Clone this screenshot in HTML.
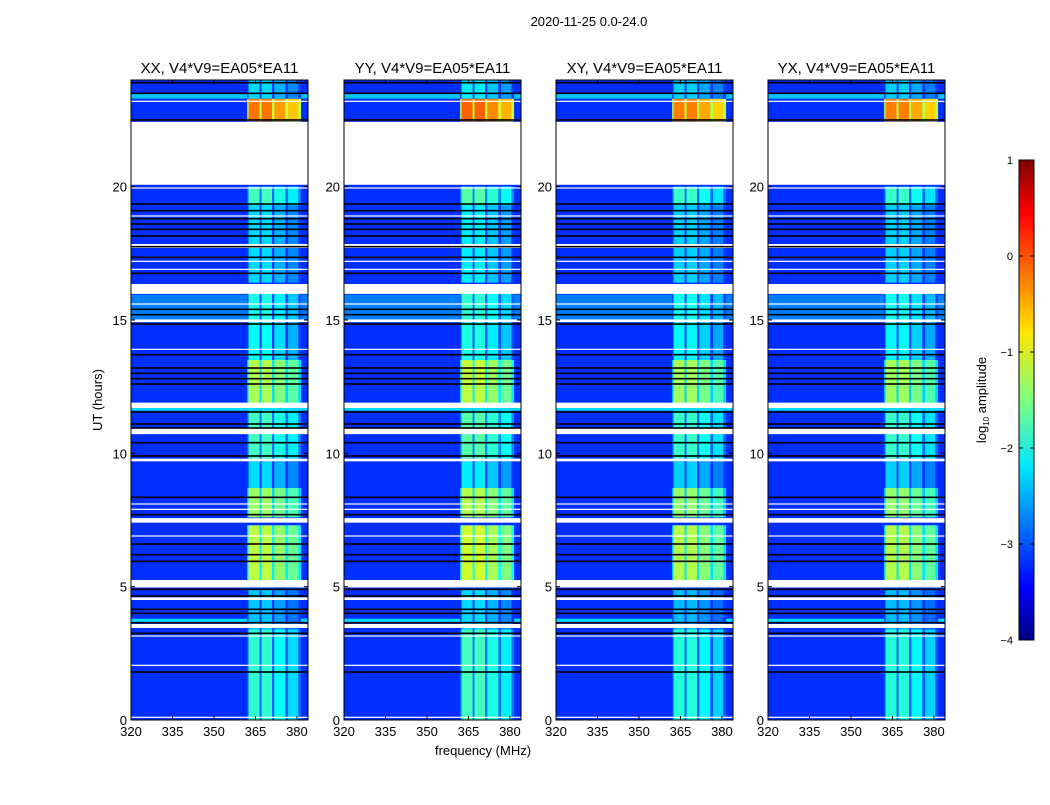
<!DOCTYPE html>
<html><head><meta charset="utf-8">
<style>
body{margin:0;background:#fff;font-family:"Liberation Sans",sans-serif;}
svg text{font-family:"Liberation Sans",sans-serif;fill:#000;}
</style></head>
<body>
<svg id="fig" width="1050" height="800" xmlns="http://www.w3.org/2000/svg">
<defs>
<linearGradient id="jetgrad" x1="0" y1="1" x2="0" y2="0">
<stop offset="0" stop-color="#000080"/><stop offset="0.11" stop-color="#0000ff"/>
<stop offset="0.36" stop-color="#00e6ff"/><stop offset="0.5" stop-color="#80ff80"/>
<stop offset="0.64" stop-color="#ffe600"/><stop offset="0.89" stop-color="#ff0000"/>
<stop offset="1" stop-color="#800000"/></linearGradient>
</defs>
<text x="589" y="26" font-size="13" text-anchor="middle">2020-11-25 0.0-24.0</text>
<text x="483" y="755" font-size="13" text-anchor="middle">frequency (MHz)</text>
<text x="102" y="400" font-size="13" text-anchor="middle" transform="rotate(-90 102 400)">UT (hours)</text>
<g id="panels"></g>
<rect x="1019" y="160" width="15" height="480" fill="url(#jetgrad)" stroke="#000" stroke-width="1"/>
<text x="986" y="400" font-size="13" text-anchor="middle" transform="rotate(-90 986 400)">log<tspan font-size="8" dy="3">10</tspan><tspan dy="-3"> amplitude</tspan></text>
<g id="cbticks"></g>
</svg>
<script>
const panelTitles = ["XX, V4*V9=EA05*EA11","YY, V4*V9=EA05*EA11","XY, V4*V9=EA05*EA11","YX, V4*V9=EA05*EA11"];
const panelOffsets = [0, 0.1, -0.05, -0.05];
const xTicks = [320,335,350,365,380];
const yTicks = [0,5,10,15,20];
const cbTicks = [-4,-3,-2,-1,0,1];
const baseSegs = [[0,24,-3.15],[23.3,23.5,-2.4],[15.0,15.95,-2.75],[11.6,11.9,-2.3],[3.65,3.8,-2.3]];
const rfiSegs = [[0,3.4,-1.9],[3.4,4.9,-2.4],[5.2,7.3,-1.2],[7.6,8.7,-1.35],[8.7,9.7,-2.3],[9.8,11.6,-1.8],[11.8,12.5,-1.3],[12.5,13.5,-1.25],[13.5,15,-2.1],[15,16,-2.0],[16.4,19.3,-2.3],[19.3,20,-1.8],[22.45,23.3,-0.2],[23.3,24,-2.3]];
const bands = [[362.5,366.5,0],[367.2,371,0],[371.8,375.8,-0.2],[376.8,380.5,-0.4]];
const blanks = [[20.07,22.43],[15.98,16.35],[17.7,17.85],[14.92,15.02],[11.7,11.9],[10.72,10.95],[9.7,9.8],[7.4,7.57],[4.97,5.25],[4.5,4.6],[3.45,3.6]];
const flags = [23.9,23.5,22.5,19.35,19.1,18.8,18.6,18.4,18.15,17.75,17.35,16.75,15.4,15.2,14.85,13.7,13.2,13.0,12.8,12.6,11.55,11.1,10.95,10.4,9.9,8.35,7.7,6.6,6.2,5.95,4.9,4.65,4.15,4.0,3.65,3.25,1.8];
const thinWhites = [23.2,19.95,18.9,17.2,16.9,15.6,13.9,8.1,7.9,6.9,3.15,2.05,0.1];

const NS="http://www.w3.org/2000/svg";
const panelX=[131,344,556,768], PW=177, PT=80, PH=640;
function jet(v){const x=Math.max(0,Math.min(1,(v+4)/5));
 const c=t=>Math.round(255*Math.max(0,Math.min(1,1.5-Math.abs(4*x-t))));
 return `rgb(${c(3)},${c(2)},${c(1)})`;}
function mk(tag,attrs,parent){const e=document.createElementNS(NS,tag);for(const k in attrs)e.setAttribute(k,attrs[k]);parent.appendChild(e);return e;}
const root=document.getElementById('panels');
panelTitles.forEach((title,p)=>{
 const x0=panelX[p];
 const xs=f=>x0+(f-320)*PW/64;
 const ys=h=>PT+PH-h*PH/24;
 const g=mk('g',{},root);
 
 
 mk('rect',{x:x0,y:PT,width:PW,height:PH,fill:'#fff'},g);
 baseSegs.forEach(s=>{const r=mk('rect',{x:x0,y:ys(s[1]),width:PW,height:ys(s[0])-ys(s[1]),fill:jet(s[2])},g);
  
  });
 rfiSegs.forEach(s=>{
  const fl=mk('rect',{x:xs(362),y:ys(s[1]),width:xs(381.5)-xs(362),height:ys(s[0])-ys(s[1]),fill:jet(Math.max(-3.1,s[2]-1.0+panelOffsets[p]))},g);
  
  
  bands.forEach(b=>{const r=mk('rect',{x:xs(b[0]),y:ys(s[1]),width:xs(b[1])-xs(b[0]),height:ys(s[0])-ys(s[1]),fill:jet(s[2]+b[2]+panelOffsets[p])},g);
   
   });
 });
 blanks.forEach(b=>{const r=mk('rect',{x:x0,y:ys(b[1]),width:PW,height:ys(b[0])-ys(b[1]),fill:'#fff'},g);
  
  });
 flags.forEach(h=>{const r=mk('rect',{x:x0,y:ys(h)-0.8,width:PW,height:1.6,fill:'#000'},g);
  
  });
 thinWhites.forEach(h=>{const r=mk('rect',{x:x0,y:ys(h)-0.6,width:PW,height:1.2,fill:'#fff'},g);
  
  });
 mk('rect',{x:x0,y:PT,width:PW,height:PH,fill:'none',stroke:'#000','stroke-width':1},g);
 const t=mk('text',{x:x0+PW/2,y:73,'font-size':15,'text-anchor':'middle'},g);t.textContent=title;
 
 
 xTicks.forEach(v=>{const X=xs(v);
  mk('line',{x1:X,y1:PT+PH,x2:X,y2:PT+PH-4,stroke:'#000'},g);
  mk('line',{x1:X,y1:PT,x2:X,y2:PT+4,stroke:'#000'},g);
  const tl=mk('text',{x:X,y:736,'font-size':13,'text-anchor':'middle'},g);tl.textContent=v;
  
  });
 yTicks.forEach(v=>{const Y=ys(v);
  mk('line',{x1:x0,y1:Y,x2:x0+4,y2:Y,stroke:'#000'},g);
  mk('line',{x1:x0+PW,y1:Y,x2:x0+PW-4,y2:Y,stroke:'#000'},g);
  const tl=mk('text',{x:x0-4,y:Y+5,'font-size':13,'text-anchor':'end'},g);tl.textContent=v;
  
  });
});
const cg=document.getElementById('cbticks');
cbTicks.forEach(v=>{const Y=640-(v+4)*480/5;
 mk('line',{x1:1019,y1:Y,x2:1023,y2:Y,stroke:'#000'},cg);
 mk('line',{x1:1034,y1:Y,x2:1030,y2:Y,stroke:'#000'},cg);
 const t=mk('text',{x:1013,y:Y+4,'font-size':11,'text-anchor':'end'},cg);t.textContent=(v<0?'\u2212'+(-v):v);
 
 });
</script>
</body></html>
